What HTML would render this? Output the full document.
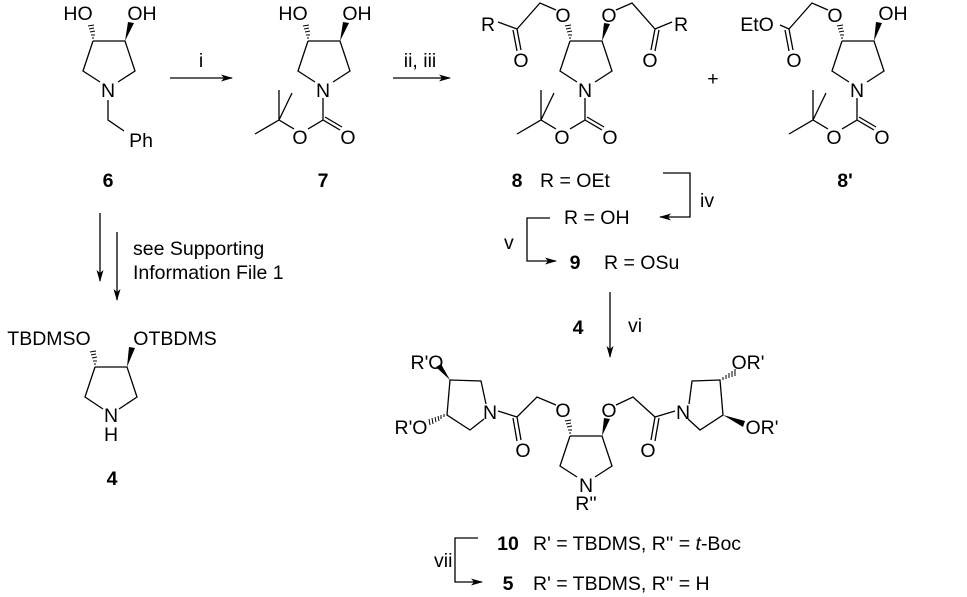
<!DOCTYPE html>
<html><head><meta charset="utf-8"><style>
html,body{margin:0;padding:0;background:#fff;}
svg{display:block;}
text{font-family:"Liberation Sans",Arial,sans-serif;font-size:19.5px;fill:#000;}
.b{font-weight:bold;}
</style></head><body>
<svg width="967" height="597" viewBox="0 0 967 597" xmlns="http://www.w3.org/2000/svg">
<defs>
<marker id="ah" markerWidth="12" markerHeight="8" refX="11" refY="4" orient="auto" markerUnits="userSpaceOnUse">
<path d="M0,0.5 L12,4 L0,7.5 L3,4 Z" fill="#000"/></marker>
</defs>
<g stroke="#000" stroke-width="1.3" fill="none">
<path d="M93,41 L125,41 L135,71 L118,82 M100,82 L83,71 L93,41 M108,100 L108,120 L124,131"/>
<path d="M308,41 L340,41 L350,71 L333,82 M315,82 L298,71 L308,41 M323,98 L323,120 L308,129 M323,120 L340,130 M325,117 L342,127 M294,129 L279,120 L255,134 M279,120 L279,90 M279,120 L292,93"/>
<path d="M570,41 L602,41 L612,71 L595,82 M577,82 L560,71 L570,41 M585,98 L585,120 L570,129 M585,120 L602,130 M587,117 L604,127 M556,129 L541,120 L517,134 M541,120 L541,90 M541,120 L554,93"/>
<path d="M556,10 L540,3 L517,29 L498,22 M517,29 L521,50 M513,30 L517,51 M616,10 L632,3 L655,29 L672,22 M655,29 L651,50 M659,30 L655,51"/>
<path d="M842,41 L874,41 L884,71 L867,82 M849,82 L832,71 L842,41 M857,98 L857,120 L842,129 M857,120 L874,130 M859,117 L876,127 M828,129 L813,120 L789,134 M813,120 L813,90 M813,120 L826,93"/>
<path d="M828,10 L812,3 L789,29 L780,25 M789,29 L793,50 M785,30 L789,51"/>
<path d="M95,367 L127,367 L137,397 L119,409 M103,409 L85,397 L95,367"/>
<path d="M570,436 L602,436 L612,466 L595,477 M577,477 L560,466 L570,436"/>
<path d="M556,405 L537,397 L517,417 L498,411 M517,417 L521,440 M513,418 L517,441 M616,405 L633,397 L655,417 L675,411 M655,417 L651,440 M659,418 L655,441"/>
<path d="M486,404 L481,381 L450,380 L447,415 L470,430 L484,419"/>
<path d="M689,404 L692,381 L720,380 L723,415 L700,430 L688,419"/>
<path d="M170,78 L232,78" marker-end="url(#ah)"/>
<path d="M393,78 L450,78" marker-end="url(#ah)"/>
<path d="M100,213 L100,281" marker-end="url(#ah)"/>
<path d="M117,232 L117,300" marker-end="url(#ah)"/>
<path d="M663,173 L690,173 L690,217 L660,217" marker-end="url(#ah)"/>
<path d="M550,218 L527,218 L527,261 L556,261" marker-end="url(#ah)"/>
<path d="M610,292 L610,357" marker-end="url(#ah)"/>
<path d="M478,538 L455,538 L455,582 L482,582" marker-end="url(#ah)"/>
</g>
<g fill="#000">
<polygon points="125,41 128,22 134,23"/>
<polygon points="340,41 343,22 349,23"/>
<polygon points="602,41 604,23 610,24"/>
<polygon points="874,41 876,22 882,23"/>
<polygon points="127,367 129,347 135,348"/>
<polygon points="602,436 604,418 610,419"/>
<polygon points="450,380 436,367 441,364"/>
<polygon points="723,415 745,421 743,427"/>
</g>
<g stroke="#000" stroke-width="1">
<path d="M92,38 L94,38 M91,35 L95,35 M90,32 L95,31 M89,29 L94,28 M88,26 L94,25"/>
<path d="M307,38 L309,38 M306,35 L310,35 M305,32 L310,31 M304,29 L309,28 M303,26 L309,25"/>
<path d="M569,38 L571,38 M568,35 L572,35 M567,32 L572,31 M566,29 L571,28 M565,26 L571,25"/>
<path d="M841,38 L843,38 M840,35 L844,35 M839,32 L844,31 M838,29 L843,28 M837,26 L843,25"/>
<path d="M94,364 L96,364 M93,361 L97,361 M92,358 L97,357 M91,355 L96,354 M90,352 L96,351"/>
<path d="M569,433 L571,433 M568,430 L572,430 M567,427 L572,426 M566,424 L571,423 M565,421 L571,420"/>
<path d="M444,414 L444,417 M441,415 L441,419 M438,416 L439,421 M435,417 L436,422 M432,418 L433,424 M429,419 L430,425"/>
<path d="M723,377 L723,380 M726,375 L726,379 M729,373 L729,378 M732,371 L732,377 M735,369 L735,376"/>
</g>
<text x="78" y="20" text-anchor="middle">HO</text>
<text x="142" y="20" text-anchor="middle">OH</text>
<text x="108" y="97" text-anchor="middle">N</text>
<text x="141" y="147" text-anchor="middle">Ph</text>
<text x="293" y="20" text-anchor="middle">HO</text>
<text x="357" y="20" text-anchor="middle">OH</text>
<text x="323" y="97" text-anchor="middle">N</text>
<text x="300" y="144" text-anchor="middle">O</text>
<text x="348" y="144" text-anchor="middle">O</text>
<text x="201" y="67" text-anchor="middle">i</text>
<text x="420" y="67" text-anchor="middle">ii, iii</text>
<text x="563" y="22" text-anchor="middle">O</text>
<text x="609" y="22" text-anchor="middle">O</text>
<text x="488" y="31" text-anchor="middle">R</text>
<text x="681" y="31" text-anchor="middle">R</text>
<text x="521" y="67" text-anchor="middle">O</text>
<text x="650" y="67" text-anchor="middle">O</text>
<text x="585" y="97" text-anchor="middle">N</text>
<text x="562" y="144" text-anchor="middle">O</text>
<text x="610" y="144" text-anchor="middle">O</text>
<text x="713" y="85" text-anchor="middle">+</text>
<text x="835" y="22" text-anchor="middle">O</text>
<text x="893" y="20" text-anchor="middle">OH</text>
<text x="757" y="31" text-anchor="middle">EtO</text>
<text x="794" y="67" text-anchor="middle">O</text>
<text x="857" y="97" text-anchor="middle">N</text>
<text x="834" y="144" text-anchor="middle">O</text>
<text x="882" y="144" text-anchor="middle">O</text>
<text x="108" y="187" text-anchor="middle" class="b">6</text>
<text x="323" y="187" text-anchor="middle" class="b">7</text>
<text x="517" y="187" text-anchor="middle" class="b">8</text>
<text x="540" y="187">R = OEt</text>
<text x="845" y="187" text-anchor="middle" class="b">8'</text>
<text x="700" y="207">iv</text>
<text x="564" y="224">R = OH</text>
<text x="504" y="249">v</text>
<text x="575" y="269" text-anchor="middle" class="b">9</text>
<text x="604" y="269">R = OSu</text>
<text x="578" y="334" text-anchor="middle" class="b">4</text>
<text x="628" y="332">vi</text>
<text x="133" y="255">see Supporting</text>
<text x="133" y="279">Information File 1</text>
<text x="49" y="345" text-anchor="middle">TBDMSO</text>
<text x="175" y="345" text-anchor="middle">OTBDMS</text>
<text x="111" y="422" text-anchor="middle">N</text>
<text x="111" y="441" text-anchor="middle">H</text>
<text x="112" y="485" text-anchor="middle" class="b">4</text>
<text x="427" y="369" text-anchor="middle">R'O</text>
<text x="411" y="434" text-anchor="middle">R'O</text>
<text x="490" y="419" text-anchor="middle">N</text>
<text x="523" y="457" text-anchor="middle">O</text>
<text x="563" y="417" text-anchor="middle">O</text>
<text x="609" y="417" text-anchor="middle">O</text>
<text x="586" y="492" text-anchor="middle">N</text>
<text x="586" y="510" text-anchor="middle">R''</text>
<text x="648" y="457" text-anchor="middle">O</text>
<text x="683" y="419" text-anchor="middle">N</text>
<text x="748" y="369" text-anchor="middle">OR'</text>
<text x="762" y="434" text-anchor="middle">OR'</text>
<text x="508" y="550" text-anchor="middle" class="b">10</text>
<text x="533" y="550">R' = TBDMS, R'' = <tspan font-style="italic">t</tspan>-Boc</text>
<text x="434" y="567">vii</text>
<text x="508" y="590" text-anchor="middle" class="b">5</text>
<text x="533" y="590">R' = TBDMS, R'' = H</text>
</svg>
</body></html>
